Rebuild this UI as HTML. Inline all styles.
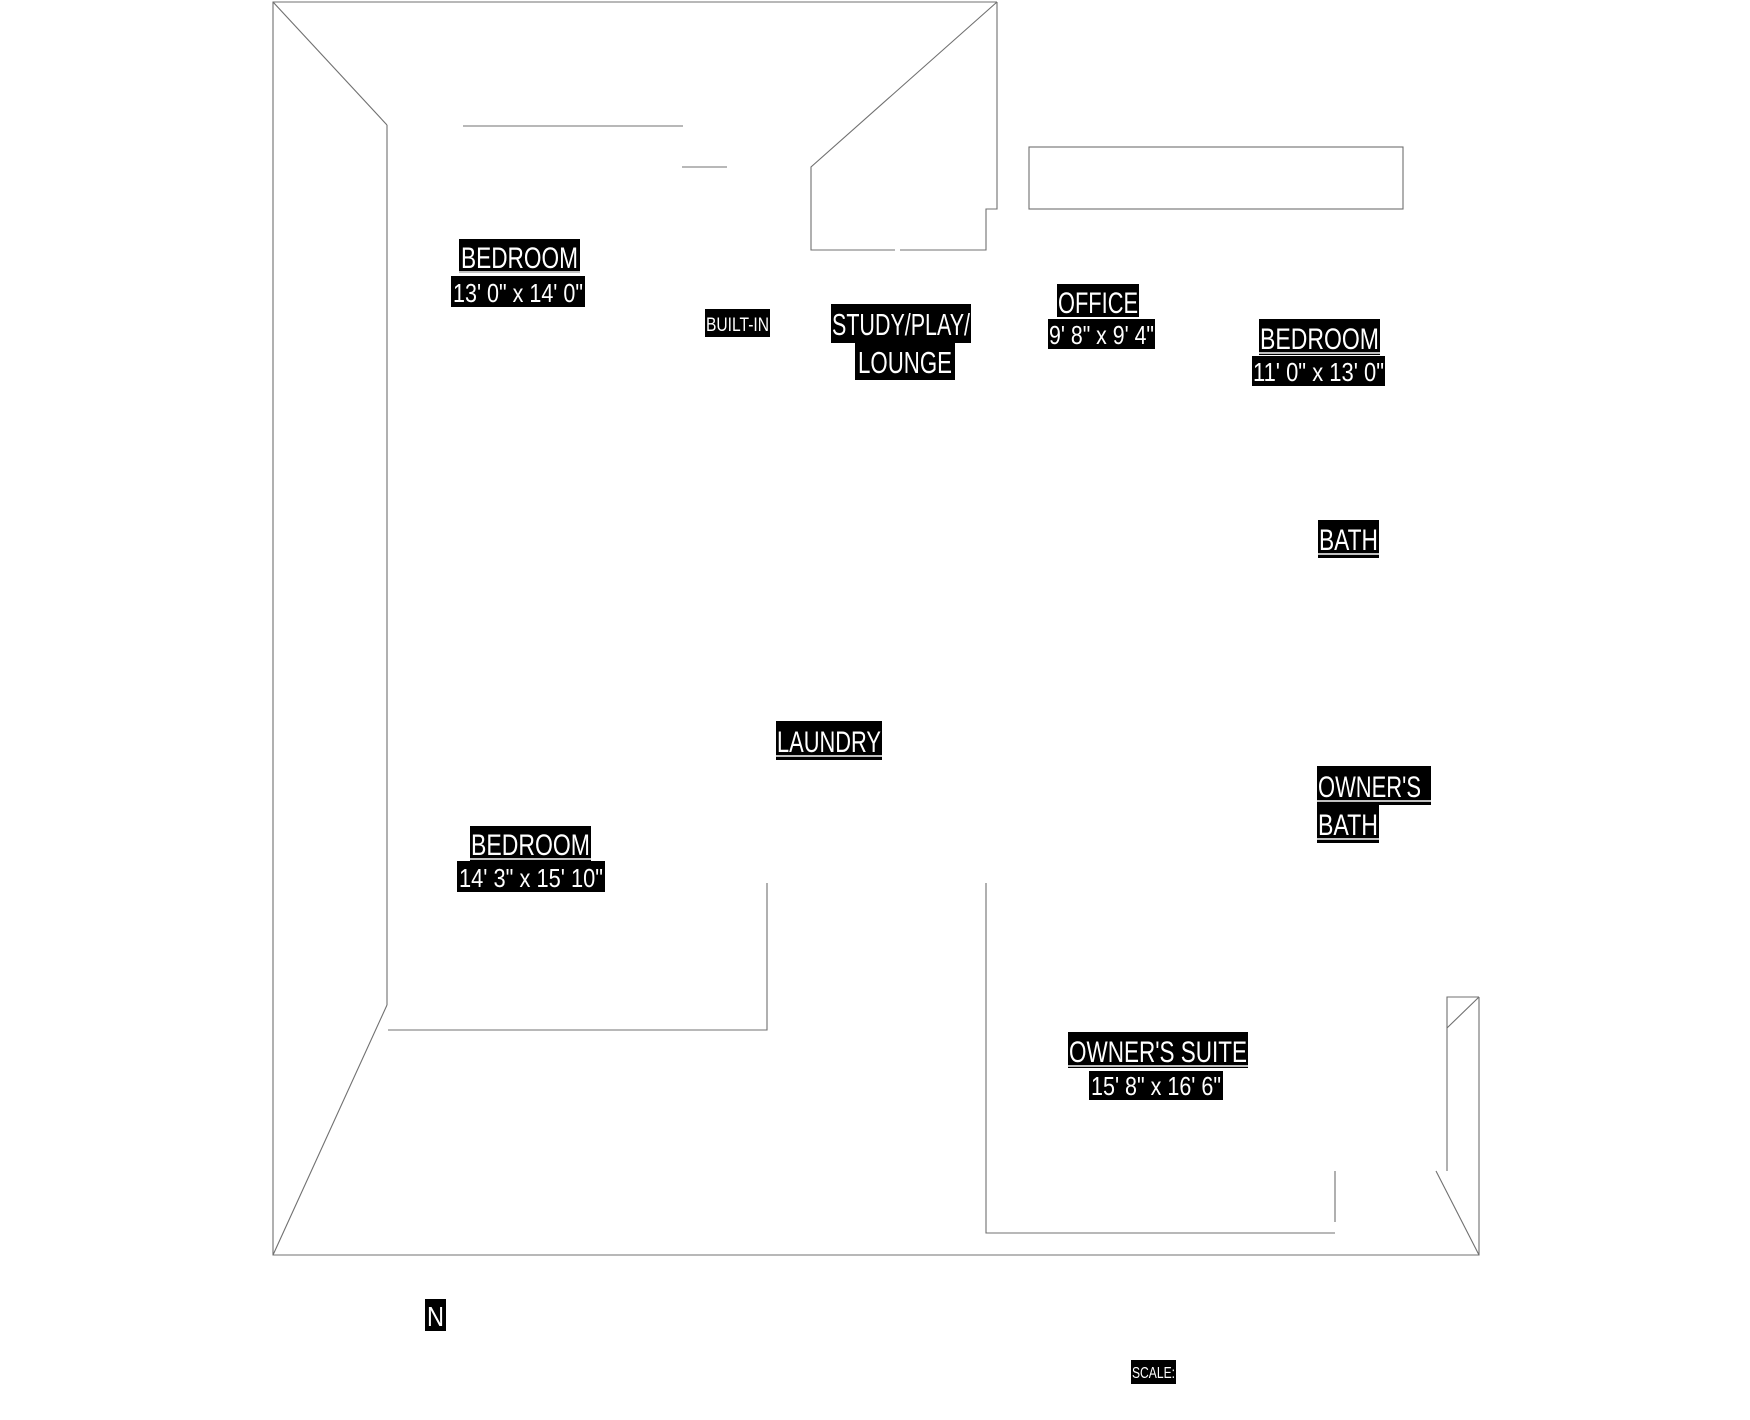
<!DOCTYPE html>
<html><head><meta charset="utf-8"><style>
html,body{margin:0;padding:0;background:#fff;}
svg{display:block;}
text{font-family:"Liberation Sans",sans-serif;fill:#fff;}
</style></head><body>
<svg width="1750" height="1420" viewBox="0 0 1750 1420" xmlns="http://www.w3.org/2000/svg">
<g fill="none" stroke="#707070" stroke-width="1.1">
<polyline points="997,2 273,2 273,1255 1479,1255 1479,997"/>
<line x1="273" y1="2" x2="387" y2="125"/>
<line x1="387" y1="125" x2="387" y2="1005"/>
<line x1="387" y1="1005" x2="273" y2="1255"/>
<line x1="463" y1="126" x2="683" y2="126"/>
<line x1="682" y1="167" x2="727" y2="167"/>
<polyline points="997,2 811,167 811,250 895,250"/>
<polyline points="900,250 986,250 986,209 997,209 997,2"/>
<rect x="1029" y="147" width="374" height="62"/>
<polyline points="388,1030 767,1030 767,883"/>
<polyline points="986,883 986,1233 1335,1233"/>
<line x1="1335" y1="1171" x2="1335" y2="1222"/>
<polyline points="1447,1171 1447,997 1479,997"/>
<line x1="1479" y1="997" x2="1447" y2="1028"/>
<line x1="1436" y1="1171" x2="1479" y2="1255"/>
</g>
<g>
<rect x="459" y="239" width="121" height="34" fill="#000"/>
<line x1="459" y1="272" x2="580" y2="272" stroke="#fff" stroke-width="1.5"/>
<text x="461" y="268" font-size="30" textLength="117" lengthAdjust="spacingAndGlyphs">BEDROOM</text>
<rect x="451" y="276" width="134" height="31" fill="#000"/>
<text x="453" y="302" font-size="26" textLength="130" lengthAdjust="spacingAndGlyphs">13' 0" x 14' 0"</text>
<rect x="705" y="309" width="65" height="28" fill="#000"/>
<text x="706" y="331" font-size="19" textLength="63" lengthAdjust="spacingAndGlyphs">BUILT-IN</text>
<rect x="831" y="304" width="140" height="39" fill="#000"/>
<text x="832" y="335" font-size="31" textLength="138" lengthAdjust="spacingAndGlyphs">STUDY/PLAY/</text>
<rect x="855" y="343" width="100" height="37" fill="#000"/>
<text x="858" y="373" font-size="31" textLength="94" lengthAdjust="spacingAndGlyphs">LOUNGE</text>
<rect x="1057" y="284" width="82" height="33" fill="#000"/>
<text x="1058" y="313" font-size="30" textLength="80" lengthAdjust="spacingAndGlyphs">OFFICE</text>
<rect x="1048" y="319" width="107" height="30" fill="#000"/>
<text x="1049" y="344" font-size="26" textLength="105" lengthAdjust="spacingAndGlyphs">9' 8" x 9' 4"</text>
<rect x="1259" y="319" width="121" height="36" fill="#000"/>
<line x1="1259" y1="353" x2="1380" y2="353" stroke="#fff" stroke-width="1.5"/>
<text x="1260" y="349" font-size="30" textLength="119" lengthAdjust="spacingAndGlyphs">BEDROOM</text>
<rect x="1252" y="356" width="133" height="30" fill="#000"/>
<text x="1253" y="381" font-size="26" textLength="131" lengthAdjust="spacingAndGlyphs">11' 0" x 13' 0"</text>
<rect x="1318" y="520" width="61" height="38" fill="#000"/>
<line x1="1318" y1="554" x2="1379" y2="554" stroke="#fff" stroke-width="1.5"/>
<text x="1319" y="550" font-size="30" textLength="59" lengthAdjust="spacingAndGlyphs">BATH</text>
<rect x="776" y="721" width="106" height="39" fill="#000"/>
<line x1="776" y1="756" x2="882" y2="756" stroke="#fff" stroke-width="1.5"/>
<text x="777" y="752" font-size="30" textLength="104" lengthAdjust="spacingAndGlyphs">LAUNDRY</text>
<rect x="1317" y="766" width="114" height="39" fill="#000"/>
<line x1="1317" y1="801" x2="1431" y2="801" stroke="#fff" stroke-width="1.5"/>
<text x="1318" y="797" font-size="30" textLength="103" lengthAdjust="spacingAndGlyphs">OWNER'S</text>
<rect x="1317" y="805" width="62" height="38" fill="#000"/>
<line x1="1317" y1="839" x2="1379" y2="839" stroke="#fff" stroke-width="1.5"/>
<text x="1318" y="835" font-size="30" textLength="60" lengthAdjust="spacingAndGlyphs">BATH</text>
<rect x="470" y="826" width="121" height="35" fill="#000"/>
<line x1="470" y1="859" x2="591" y2="859" stroke="#fff" stroke-width="1.5"/>
<text x="471" y="855" font-size="30" textLength="119" lengthAdjust="spacingAndGlyphs">BEDROOM</text>
<rect x="457" y="861" width="148" height="31" fill="#000"/>
<text x="459" y="887" font-size="26" textLength="144" lengthAdjust="spacingAndGlyphs">14' 3" x 15' 10"</text>
<rect x="1068" y="1032" width="180" height="36" fill="#000"/>
<line x1="1068" y1="1066" x2="1248" y2="1066" stroke="#fff" stroke-width="1.5"/>
<text x="1069" y="1062" font-size="30" textLength="178" lengthAdjust="spacingAndGlyphs">OWNER'S SUITE</text>
<rect x="1089" y="1071" width="134" height="29" fill="#000"/>
<text x="1091" y="1095" font-size="26" textLength="130" lengthAdjust="spacingAndGlyphs">15' 8" x 16' 6"</text>
<rect x="425" y="1299" width="21" height="32" fill="#000"/>
<text x="427" y="1326" font-size="28" textLength="17" lengthAdjust="spacingAndGlyphs">N</text>
<rect x="1131" y="1360" width="45" height="24" fill="#000"/>
<text x="1132" y="1378" font-size="16" textLength="43" lengthAdjust="spacingAndGlyphs">SCALE:</text>
</g>
</svg>
</body></html>
